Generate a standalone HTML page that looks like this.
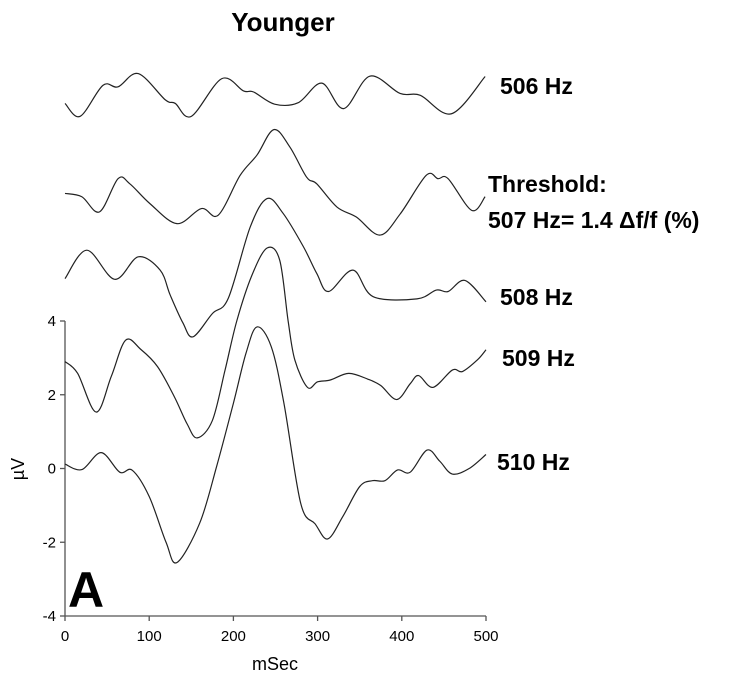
<!DOCTYPE html>
<html><head><meta charset="utf-8"><style>
body{margin:0;background:#fff;width:750px;height:683px;overflow:hidden}
svg{font-family:"Liberation Sans",Arial,sans-serif}
</style></head><body>
<svg id="chart" width="750" height="683" viewBox="0 0 750 683">
<g id="axes"></g>
<g id="traces"></g>
<text x="283" y="31" font-size="26" font-weight="bold" text-anchor="middle">Younger</text>
<text x="500" y="94" font-size="23" font-weight="bold">506 Hz</text>
<text x="488" y="192" font-size="23" font-weight="bold">Threshold:</text>
<text x="488" y="228" font-size="23" font-weight="bold">507 Hz= 1.4 Δf/f (%)</text>
<text x="500" y="305" font-size="23" font-weight="bold">508 Hz</text>
<text x="502" y="366" font-size="23" font-weight="bold">509 Hz</text>
<text x="497" y="470" font-size="23" font-weight="bold">510 Hz</text>
<text x="68" y="607" font-size="50" font-weight="bold">A</text>
<text x="275" y="670" font-size="18" text-anchor="middle">mSec</text>
<text x="0" y="0" font-size="18" text-anchor="middle" transform="translate(24,469) rotate(-90)">µV</text>
</svg>
<script>
const xTicks=[0,100,200,300,400,500];
const yTicks=[-4,-2,0,2,4];
const t506=[0,18,45,63,87,119,131,150,186,212,224,249,277,305,331,362,398,422,459,499];
const v506=[9.9,9.55,10.39,10.35,10.71,10.0,9.9,9.55,10.57,10.24,10.21,9.88,9.92,10.45,9.76,10.64,10.17,10.12,9.62,10.63];
const t507=[0,20,41,63,77,101,133,162,182,208,228,248,267,287,299,323,346,374,398,429,443,455,483,499];
const v507=[7.46,7.37,6.96,7.86,7.72,7.18,6.64,7.05,6.87,7.95,8.5,9.19,8.72,7.9,7.72,7.09,6.82,6.33,6.9,7.95,7.86,7.86,7.0,7.37];
const t508=[0,26,59,87,113,125,140,152,175,194,220,240,259,283,299,313,342,366,418,441,455,475,500];
const v508=[5.15,5.92,5.13,5.74,5.38,4.7,3.95,3.57,4.2,4.62,6.55,7.32,6.92,6.02,5.29,4.8,5.38,4.66,4.6,4.84,4.8,5.1,4.52];
const t509=[0,15,37,55,72,90,110,130,145,157,175,190,204,222,240,255,265,273,288,300,315,337,360,375,394,410,420,437,460,472,490,500];
const v509=[2.9,2.58,1.53,2.5,3.48,3.23,2.76,1.94,1.21,0.83,1.3,2.66,4.0,5.24,5.98,5.65,4.0,2.94,2.2,2.35,2.4,2.58,2.42,2.25,1.87,2.3,2.52,2.2,2.67,2.63,2.95,3.22];
const t510=[0,20,43,65,80,100,120,133,160,180,200,215,228,245,260,280,297,312,330,350,365,380,395,410,430,445,460,480,500];
const v510=[0.12,-0.03,0.43,-0.1,-0.05,-0.76,-2.0,-2.55,-1.48,0.05,1.77,3.13,3.84,3.3,1.77,-0.95,-1.5,-1.91,-1.3,-0.49,-0.33,-0.33,-0.04,-0.1,0.5,0.2,-0.15,0,0.38];
const X=t=>65+t*(486-65)/500;
const Y=v=>468.5-v*(468.5-321)/4;
const NS='http://www.w3.org/2000/svg';
const axes=document.getElementById('axes'), traces=document.getElementById('traces');
function mk(tag,attrs,parent){const e=document.createElementNS(NS,tag);for(const k in attrs)e.setAttribute(k,attrs[k]);parent.appendChild(e);return e;}
let e=mk('line',{x1:X(0),y1:Y(4),x2:X(0),y2:Y(-4),stroke:'#555','stroke-width':1.3},axes);


e=mk('line',{x1:X(0),y1:Y(-4),x2:X(500),y2:Y(-4),stroke:'#555','stroke-width':1.3},axes);


xTicks.forEach(t=>{
  const l=mk('line',{x1:X(t),y1:Y(-4),x2:X(t),y2:Y(-4)+5,stroke:'#555','stroke-width':1.3},axes);
  
  
  const tx=mk('text',{x:X(t),y:Y(-4)+25,'font-size':15,'text-anchor':'middle'},axes);tx.textContent=t;
  
  
});
yTicks.forEach(v=>{
  const l=mk('line',{x1:X(0)-5,y1:Y(v),x2:X(0),y2:Y(v),stroke:'#555','stroke-width':1.3},axes);
  
  
  const tx=mk('text',{x:X(0)-9,y:Y(v)+5,'font-size':15,'text-anchor':'end'},axes);tx.textContent=v;
  
  
});
function pathFor(ts,vs){
  const p=ts.map((t,i)=>[X(t),Y(vs[i])]);
  let d='M'+p[0][0]+','+p[0][1];
  for(let i=0;i<p.length-1;i++){
    const p0=p[Math.max(0,i-1)],p1=p[i],p2=p[i+1],p3=p[Math.min(p.length-1,i+2)];
    const c1=[p1[0]+(p2[0]-p0[0])/6,p1[1]+(p2[1]-p0[1])/6];
    const c2=[p2[0]-(p3[0]-p1[0])/6,p2[1]-(p3[1]-p1[1])/6];
    d+=`C${c1[0]},${c1[1]} ${c2[0]},${c2[1]} ${p2[0]},${p2[1]}`;
  }
  return d;
}
[[t506,v506,'trace-506hz'],[t507,v507,'trace-507hz'],[t508,v508,'trace-508hz'],[t509,v509,'trace-509hz'],[t510,v510,'trace-510hz']].forEach(s=>{
  const p=mk('path',{d:pathFor(s[0],s[1]),fill:'none',stroke:'#222','stroke-width':1.2},traces);
  
  
});
</script>
</body></html>
